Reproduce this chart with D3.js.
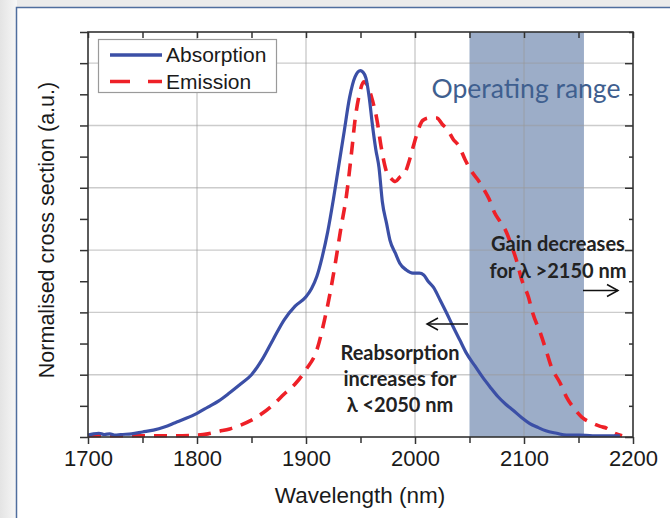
<!DOCTYPE html>
<html>
<head>
<meta charset="utf-8">
<script src="https://cdn.jsdelivr.net/npm/d3@7"></script>
<style>
html,body{margin:0;padding:0;background:#ececec;}
svg{display:block;}
</style>
</head>
<body>
<svg id="chart" width="670" height="518"></svg>
<script>
// ---- data ----
const xMajorTicks = [1700, 1800, 1900, 2000, 2100, 2200];
const xMinorTicks = [1750, 1850, 1950, 2050, 2150];
const yMajorTicks = [0, 1, 2, 3, 4, 5, 6];
const yMinorTicks = [0.5, 1.5, 2.5, 3.5, 4.5, 5.5, 6.5];
const operatingRange = [2050, 2155];

const absorptionWl = [1700,1705,1710,1715,1720,1725,1730,1740,1750,1760,1770,1780,1790,1800,1810,1820,1830,1840,1850,1860,1870,1880,1890,1900,1905,1910,1915,1920,1925,1930,1935,1940,1945,1950,1952,1955,1958,1961,1964,1967,1970,1974,1977,1982,1986,1992,1998,2004,2008,2012,2017,2023,2029,2035,2041,2047,2055,2062,2069,2076,2083,2090,2098,2105,2112,2120,2130,2139,2150,2163,2175,2188];
const absorptionVal = [0.03,0.05,0.06,0.04,0.05,0.03,0.04,0.05,0.08,0.11,0.16,0.23,0.30,0.38,0.48,0.58,0.71,0.85,1.00,1.25,1.57,1.88,2.10,2.25,2.38,2.58,2.90,3.30,3.80,4.35,4.90,5.45,5.78,5.88,5.86,5.76,5.45,5.00,4.62,4.32,3.78,3.42,3.16,2.95,2.79,2.68,2.63,2.63,2.60,2.50,2.40,2.20,1.99,1.77,1.56,1.35,1.14,0.96,0.80,0.65,0.53,0.43,0.31,0.22,0.16,0.10,0.06,0.03,0.03,0.02,0.02,0.02];

const emissionWl = [1700,1720,1740,1760,1780,1800,1810,1820,1830,1840,1850,1860,1870,1880,1890,1900,1910,1917,1922,1927,1932,1937,1942,1945,1949,1953,1957,1961,1965,1969,1974,1978,1982,1986,1991,1995,1999,2003,2007,2013,2020,2025,2030,2035,2040,2046,2052,2058,2063,2068,2073,2078,2083,2089,2093,2098,2104,2108,2115,2121,2125,2133,2139,2145,2153,2163,2170,2176,2183,2190];
const emissionVal = [0.02,0.02,0.02,0.02,0.02,0.03,0.05,0.09,0.13,0.19,0.27,0.38,0.52,0.69,0.85,1.08,1.40,1.88,2.30,2.80,3.35,3.86,4.60,5.09,5.50,5.70,5.62,5.40,5.10,4.65,4.25,4.15,4.10,4.17,4.25,4.45,4.70,4.93,5.08,5.12,5.12,5.02,4.93,4.78,4.68,4.45,4.26,4.12,3.98,3.82,3.60,3.46,3.32,3.05,2.84,2.52,2.25,1.99,1.67,1.35,1.13,0.87,0.64,0.48,0.32,0.22,0.17,0.14,0.06,0.02];

const seriesNames = ["Absorption", "Emission"];
const xTitle = "Wavelength (nm)";
const yTitle = "Normalised cross section (a.u.)";
const rangeLabel = "Operating range";
const gainLines = ["Gain decreases", "for λ >2150 nm"];
const reabsLines = ["Reabsorption", "increases for", "λ <2050 nm"];

// ---- layout ----
const svg = d3.select("#chart");
const L = 88, R = 633, T = 32, B = 437;
const x = d3.scaleLinear().domain([1700, 2200]).range([L, R]);
const y = d3.scaleLinear().domain([0, 6.5]).range([B, T]);
const blue = "#3b4fa6", red = "#ee2027";

// background / panel
const defs = svg.append("defs");
const g1 = defs.append("linearGradient").attr("id","lg").attr("x1","0").attr("x2","1").attr("y1","0").attr("y2","0");
g1.append("stop").attr("offset","0").attr("stop-color","#e4e4e4");
g1.append("stop").attr("offset","1").attr("stop-color","#f7f7f7");
svg.append("rect").attr("x",0).attr("y",0).attr("width",670).attr("height",518).attr("fill","#ebebeb");
svg.append("rect").attr("x",0).attr("y",0).attr("width",17).attr("height",518).attr("fill","url(#lg)");
svg.append("rect").attr("x",16.5).attr("y",7.5).attr("width",700).attr("height",600)
  .attr("fill","#ffffff").attr("stroke","#4f6e9e").attr("stroke-width",1.5);

// shading
svg.append("rect").attr("x", x(operatingRange[0])).attr("y", T)
  .attr("width", x(operatingRange[1]) - x(operatingRange[0])).attr("height", B - T)
  .attr("fill", "#9cadc8");

// grid
const grid = svg.append("g").attr("stroke", "#9a9a9a").attr("stroke-opacity", 0.5).attr("stroke-width", 1.4);
xMajorTicks.slice(1, -1).forEach(v => grid.append("line").attr("x1", x(v)).attr("x2", x(v)).attr("y1", T).attr("y2", B));
yMajorTicks.slice(1).forEach(v => grid.append("line").attr("x1", L).attr("x2", R).attr("y1", y(v)).attr("y2", y(v)));

// curves
const absData = absorptionWl.map((w, i) => [w, absorptionVal[i]]);
const emData = emissionWl.map((w, i) => [w, emissionVal[i]]);
const line = d3.line().x(d => x(d[0])).y(d => y(d[1])).curve(d3.curveMonotoneX);
svg.append("path").datum(emData).attr("d", line).attr("fill", "none")
  .attr("stroke", red).attr("stroke-width", 3.6).attr("stroke-dasharray", "13,9");
svg.append("path").datum(absData).attr("d", line).attr("fill", "none")
  .attr("stroke", blue).attr("stroke-width", 3.2).attr("stroke-linejoin", "round");

// axes
function styleAxis(g) {
  g.select(".domain").remove();
  g.selectAll(".tick line").attr("stroke", "#333").attr("stroke-width", 1.5);
}
const axisFont = "Liberation Sans, Arial, sans-serif";
const bx = svg.append("g").attr("transform", `translate(0,${B})`)
  .call(d3.axisBottom(x).tickValues(xMajorTicks).tickSize(7).tickPadding(6).tickFormat(d3.format("d")));
styleAxis(bx);
bx.selectAll("text").attr("font-family", axisFont).attr("font-size", 22).attr("fill", "#1a1a1a");
const bxm = svg.append("g").attr("transform", `translate(0,${B})`)
  .call(d3.axisBottom(x).tickValues(xMinorTicks).tickSize(6).tickFormat(""));
styleAxis(bxm);
const tx = svg.append("g").attr("transform", `translate(0,${T})`)
  .call(d3.axisBottom(x).tickValues(xMajorTicks.concat(xMinorTicks)).tickSize(6).tickFormat(""));
styleAxis(tx);
const ly = svg.append("g").attr("transform", `translate(${L},0)`)
  .call(d3.axisLeft(y).tickValues(yMajorTicks.concat(yMinorTicks)).tickSize(8).tickFormat(""));
styleAxis(ly);
const ry = svg.append("g").attr("transform", `translate(${R},0)`)
  .call(d3.axisLeft(y).tickValues(yMajorTicks).tickSize(8).tickFormat(""));
styleAxis(ry);
const rym = svg.append("g").attr("transform", `translate(${R},0)`)
  .call(d3.axisLeft(y).tickValues(yMinorTicks).tickSize(4).tickFormat(""));
styleAxis(rym);
svg.append("rect").attr("x", L).attr("y", T).attr("width", R - L).attr("height", B - T)
  .attr("fill", "none").attr("stroke", "#333").attr("stroke-width", 1.6);

// axis titles
svg.append("text").attr("x", 360).attr("y", 503).attr("text-anchor", "middle")
  .attr("font-family", axisFont).attr("font-size", 22.5).attr("fill", "#1a1a1a").text(xTitle);
svg.append("text").attr("transform", `translate(54,230) rotate(-90)`).attr("text-anchor", "middle")
  .attr("font-family", axisFont).attr("font-size", 21.5).attr("fill", "#1a1a1a").text(yTitle);

// legend
const leg = svg.append("g");
leg.append("rect").attr("x", 98.5).attr("y", 39.5).attr("width", 178).attr("height", 53)
  .attr("fill", "#fff").attr("stroke", "#9a9a9a").attr("stroke-width", 1.2);
leg.append("line").attr("x1", 110).attr("x2", 162).attr("y1", 55).attr("y2", 55)
  .attr("stroke", blue).attr("stroke-width", 3.4);
leg.append("line").attr("x1", 110).attr("x2", 162).attr("y1", 81.5).attr("y2", 81.5)
  .attr("stroke", red).attr("stroke-width", 3.6).attr("stroke-dasharray", "20,18");
leg.append("text").attr("x", 166).attr("y", 62).attr("font-family", axisFont).attr("font-size", 21)
  .attr("fill", "#1a1a1a").text(seriesNames[0]);
leg.append("text").attr("x", 166).attr("y", 88.5).attr("font-family", axisFont).attr("font-size", 21)
  .attr("fill", "#1a1a1a").text(seriesNames[1]);

// annotations
const annFont = "Lato, Carlito, sans-serif";
svg.append("text").attr("x", 526).attr("y", 98).attr("text-anchor", "middle")
  .attr("font-family", annFont).attr("font-size", 26.5).attr("fill", "#3f5f8f").text(rangeLabel);
gainLines.forEach((t, i) => svg.append("text").attr("x", 558).attr("y", 251 + i * 27)
  .attr("text-anchor", "middle").attr("font-family", annFont).attr("font-weight", "bold")
  .attr("font-size", 20).attr("fill", "#222").text(t));
reabsLines.forEach((t, i) => svg.append("text").attr("x", 400).attr("y", 360 + i * 26)
  .attr("text-anchor", "middle").attr("font-family", annFont).attr("font-weight", "bold")
  .attr("font-size", 20).attr("fill", "#222").text(t));

// arrows
function arrow(x1, x2, yy) {
  const g = svg.append("g").attr("stroke", "#111").attr("stroke-width", 1.5).attr("fill", "none");
  g.append("line").attr("x1", x1).attr("x2", x2).attr("y1", yy).attr("y2", yy);
  const dir = Math.sign(x2 - x1);
  g.append("path").attr("d", `M${x2 - dir * 11},${yy - 6} L${x2},${yy} L${x2 - dir * 11},${yy + 6}`);
}
arrow(583, 618, 290.5);
arrow(468, 427, 324);
</script>
</body>
</html>
